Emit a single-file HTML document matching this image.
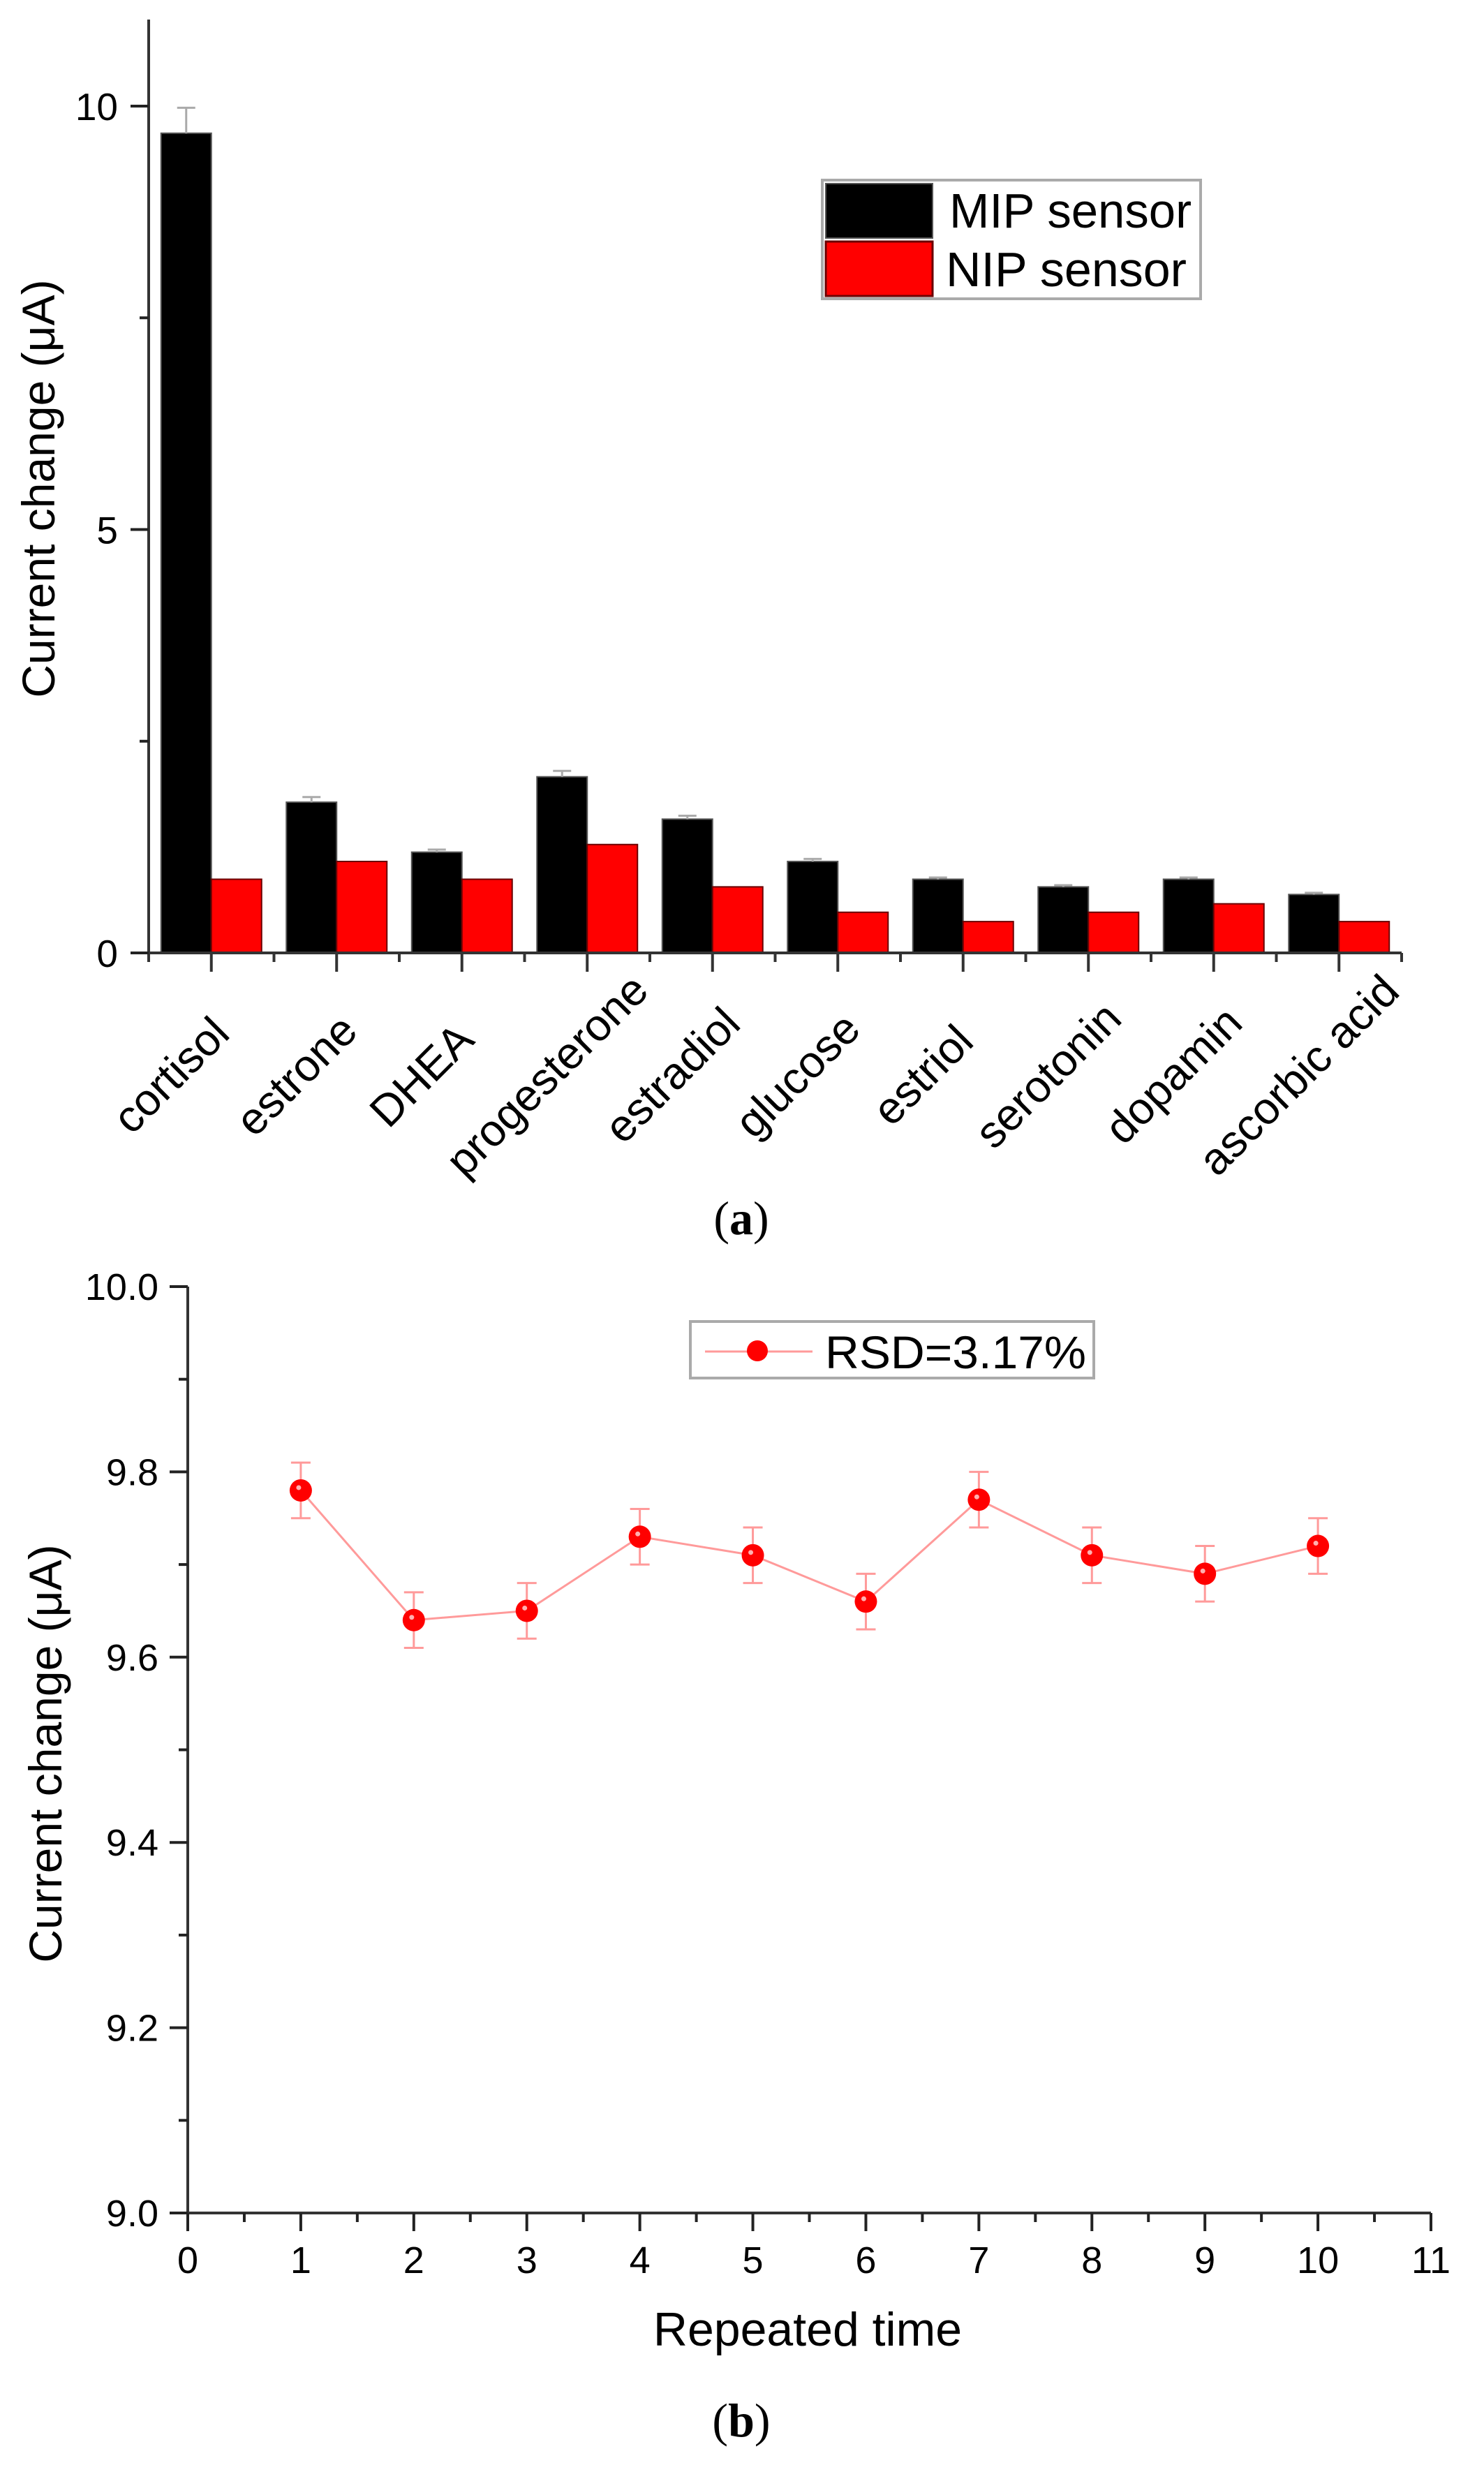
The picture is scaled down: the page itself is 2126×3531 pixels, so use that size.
<!DOCTYPE html>
<html><head><meta charset="utf-8"><style>
html,body{margin:0;padding:0;background:#fff;}
svg{display:block;font-family:"Liberation Sans",Arial,sans-serif;}
</style></head><body>
<svg id="fig" width="2126" height="3531" viewBox="0 0 2126 3531" xmlns="http://www.w3.org/2000/svg">
<rect width="2126" height="3531" fill="#fff"/>
<g id="chartA"></g>
<g id="chartB"></g>
<text x="1062" y="1768" text-anchor="middle" font-family="Liberation Serif,serif" font-size="68">(<tspan font-weight="bold">a</tspan>)</text>
<text x="1062" y="3490" text-anchor="middle" font-family="Liberation Serif,serif" font-size="68">(<tspan font-weight="bold">b</tspan>)</text>
</svg>
<script>
const categories = ["cortisol","estrone","DHEA","progesterone","estradiol","glucose","estriol","serotonin","dopamin","ascorbic acid"];
const mipValues = [9.68,1.78,1.19,2.08,1.58,1.08,0.87,0.78,0.87,0.69];
const mipErrors = [0.3,0.06,0.03,0.07,0.04,0.03,0.02,0.02,0.02,0.02];
const nipValues = [0.87,1.08,0.87,1.28,0.78,0.48,0.37,0.48,0.58,0.37];
const yTicksA = [0,5,10];

const runs = [1,2,3,4,5,6,7,8,9,10];
const currentValues = [9.78,9.64,9.65,9.73,9.71,9.66,9.77,9.71,9.69,9.72];
const currentErrors = [0.03,0.03,0.03,0.03,0.03,0.03,0.03,0.03,0.03,0.03];
const xTicksB = [0,1,2,3,4,5,6,7,8,9,10,11];
const yTicksB = [9.0,9.2,9.4,9.6,9.8,10.0];

const NS = "http://www.w3.org/2000/svg";
function mk(parent, tag, attrs, text){
  const e = document.createElementNS(NS, tag);
  for (const k in attrs) e.setAttribute(k, attrs[k]);
  if (text !== undefined) e.textContent = text;
  parent.appendChild(e);
  return e;
}

// ---------- Chart A ----------
(function(){
  const g = document.getElementById('chartA');
  const X0 = 213, GW = 179.5, Y0 = 1365, Y10 = 152;
  const ya = v => Y0 + (Y10 - Y0) * v / 10;
  const gx = i => X0 + (i + 0.5) * GW;
  const BW = 72;
  categories.forEach((c, i) => {
    const cx = gx(i);
    let b = mk(g, 'rect', {x: cx - BW, y: ya(mipValues[i]), width: BW, height: Y0 - ya(mipValues[i]), fill: '#000', stroke: '#555', 'stroke-width': 2});
    
    
    let e = mk(g, 'path', {d: `M${cx-BW/2} ${ya(mipValues[i])} V${ya(mipValues[i]+mipErrors[i])} M${cx-BW/2-13} ${ya(mipValues[i]+mipErrors[i])} H${cx-BW/2+13}`, stroke: '#aaa', 'stroke-width': 3, fill: 'none'});
    
    
    let r = mk(g, 'rect', {x: cx, y: ya(nipValues[i]), width: BW, height: Y0 - ya(nipValues[i]), fill: '#ff0000', stroke: '#6a0000', 'stroke-width': 2});
    
    
    let t = mk(g, 'text', {x: 0, y: 0, 'text-anchor': 'middle', 'dominant-baseline': 'central', 'font-size': 64, transform: `translate(${cx-58},1540) rotate(-45)`}, c);
    
    
    mk(g, 'line', {x1: cx, y1: Y0, x2: cx, y2: Y0 + 27, stroke: '#333', 'stroke-width': 4});
  });
  for (let i = 0; i <= categories.length; i++) {
    mk(g, 'line', {x1: X0 + i*GW, y1: Y0, x2: X0 + i*GW, y2: Y0 + 13, stroke: '#333', 'stroke-width': 4});
  }
  let ax = mk(g, 'path', {d: `M${X0} 28 V${Y0} H${X0 + categories.length*GW}`, stroke: '#333', 'stroke-width': 4, fill: 'none'});
  
  
  yTicksA.forEach(v => {
    mk(g, 'line', {x1: X0 - 26, y1: ya(v), x2: X0, y2: ya(v), stroke: '#222', 'stroke-width': 4});
    let t = mk(g, 'text', {x: X0 - 44, y: ya(v) + 20, 'text-anchor': 'end', 'font-size': 55}, String(v));
    
    
  });
  [2.5, 7.5].forEach(v => mk(g, 'line', {x1: X0 - 13, y1: ya(v), x2: X0, y2: ya(v), stroke: '#222', 'stroke-width': 4}));
  let yt = mk(g, 'text', {x: 0, y: 0, 'text-anchor': 'middle', 'font-size': 66, transform: 'translate(78,700) rotate(-90)'}, 'Current change (μA)');
  
  
  let lg = mk(g, 'g', {});
  
  
  mk(lg, 'rect', {x: 1178, y: 258, width: 542, height: 170, fill: '#fff', stroke: '#aaa', 'stroke-width': 4});
  mk(lg, 'rect', {x: 1183, y: 263, width: 153, height: 78, fill: '#000', stroke: '#555', 'stroke-width': 2});
  mk(lg, 'rect', {x: 1183, y: 346, width: 153, height: 78, fill: '#ff0000', stroke: '#6a0000', 'stroke-width': 3});
  let l1 = mk(lg, 'text', {x: 1360, y: 326, 'font-size': 70, textLength: 347, lengthAdjust: 'spacingAndGlyphs'}, 'MIP sensor');
  
  
  let l2 = mk(lg, 'text', {x: 1355, y: 410, 'font-size': 70, textLength: 345, lengthAdjust: 'spacingAndGlyphs'}, 'NIP sensor');
  
  
})();

// ---------- Chart B ----------
(function(){
  const g = document.getElementById('chartB');
  const X0 = 269, X11 = 2050, YTOP = 1843, YBOT = 3170;
  const xb = v => X0 + (X11 - X0) * v / 11;
  const yb = v => YBOT + (YTOP - YBOT) * (v - 9.0) / 1.0;
  let ax = mk(g, 'path', {d: `M${X0} ${YTOP} V${YBOT} H${X11}`, stroke: '#333', 'stroke-width': 4, fill: 'none'});
  
  
  yTicksB.forEach(v => {
    mk(g, 'line', {x1: X0 - 26, y1: yb(v), x2: X0, y2: yb(v), stroke: '#222', 'stroke-width': 4});
    let t = mk(g, 'text', {x: X0 - 42, y: yb(v) + 19, 'text-anchor': 'end', 'font-size': 54}, v.toFixed(1));
    
    
  });
  for (let k = 0; k < yTicksB.length - 1; k++) {
    const v = (yTicksB[k] + yTicksB[k+1]) / 2;
    mk(g, 'line', {x1: X0 - 13, y1: yb(v), x2: X0, y2: yb(v), stroke: '#222', 'stroke-width': 4});
  }
  xTicksB.forEach(v => {
    mk(g, 'line', {x1: xb(v), y1: YBOT, x2: xb(v), y2: YBOT + 26, stroke: '#222', 'stroke-width': 4});
    let t = mk(g, 'text', {x: xb(v), y: YBOT + 86, 'text-anchor': 'middle', 'font-size': 54}, String(v));
    
    
    if (v < 11) mk(g, 'line', {x1: xb(v + 0.5), y1: YBOT, x2: xb(v + 0.5), y2: YBOT + 13, stroke: '#222', 'stroke-width': 4});
  });
  let xt = mk(g, 'text', {x: 1157, y: 3360, 'text-anchor': 'middle', 'font-size': 68}, 'Repeated time');
  
  
  let yt = mk(g, 'text', {x: 0, y: 0, 'text-anchor': 'middle', 'font-size': 66, transform: 'translate(88,2512) rotate(-90)'}, 'Current change (μA)');
  
  
  let pts = runs.map((r, i) => `${xb(r)},${yb(currentValues[i])}`).join(' ');
  let pl = mk(g, 'polyline', {points: pts, fill: 'none', stroke: '#ff9a9a', 'stroke-width': 3});
  
  
  runs.forEach((r, i) => {
    const x = xb(r), v = currentValues[i], e = currentErrors[i];
    let eb = mk(g, 'path', {d: `M${x} ${yb(v+e)} V${yb(v-e)} M${x-14} ${yb(v+e)} H${x+14} M${x-14} ${yb(v-e)} H${x+14}`, stroke: '#ff9a9a', 'stroke-width': 3, fill: 'none'});
    
    
    let c = mk(g, 'circle', {cx: x, cy: yb(v), r: 16, fill: '#ff0000'});
    
    
    mk(g, 'circle', {cx: x - 3, cy: yb(v) - 4, r: 3.5, fill: '#ffb0b0'});
  });
  let lg = mk(g, 'g', {});
  
  
  mk(lg, 'rect', {x: 989, y: 1893, width: 578, height: 81, fill: '#fff', stroke: '#aaa', 'stroke-width': 4});
  mk(lg, 'line', {x1: 1010, y1: 1936, x2: 1164, y2: 1936, stroke: '#ff9a9a', 'stroke-width': 3});
  mk(lg, 'circle', {cx: 1085, cy: 1935, r: 15, fill: '#ff0000'});
  let lt = mk(lg, 'text', {x: 1182, y: 1960, 'font-size': 66, textLength: 374, lengthAdjust: 'spacingAndGlyphs'}, 'RSD=3.17%');
  
  
})();
</script>
</body></html>
